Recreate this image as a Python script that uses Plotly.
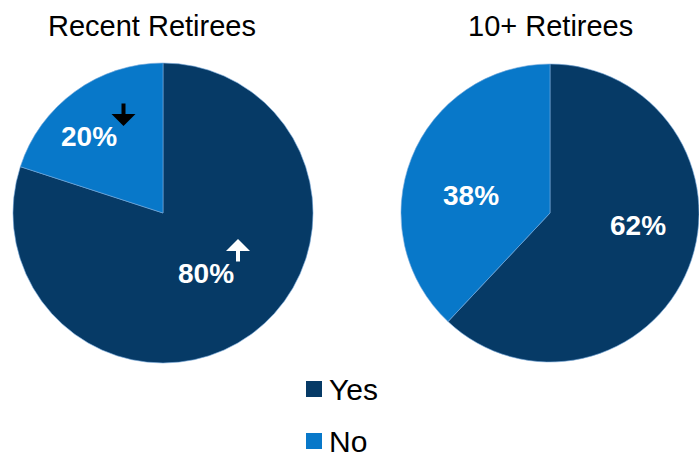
import plotly.graph_objects as go

# Survey answers by retiree group
categories = ["Yes", "No"]
recent_retirees = [80, 20]
ten_plus_retirees = [62, 38]
group_titles = ["Recent Retirees", "10+ Retirees"]

colors = ["#063a66", "#0878c9"]
W, H = 699, 455


def px(x):
    return x / W


def py(y):
    return 1 - y / H


fig = go.Figure()

pie_style = dict(
    labels=categories,
    sort=False,
    direction="clockwise",
    rotation=0,
    textinfo="none",
    hoverinfo="label+percent",
    showlegend=False,
    marker=dict(colors=colors, line=dict(color="rgba(120,170,220,0.6)", width=1)),
)

fig.add_trace(go.Pie(values=recent_retirees, name=group_titles[0],
                     domain=dict(x=[px(13), px(313)], y=[py(363), py(63)]),
                     **pie_style))
fig.add_trace(go.Pie(values=ten_plus_retirees, name=group_titles[1],
                     domain=dict(x=[px(401), 1.0], y=[py(362), py(64)]),
                     **pie_style))

annotations = []
centered = dict(xref="paper", yref="paper", xanchor="center", yanchor="middle", showarrow=False)

# Group titles
for title, cx in zip(group_titles, [152, 550]):
    annotations.append(dict(text=title, x=px(cx), y=py(26),
                            font=dict(size=29, color="#000000"), **centered))

# Percentage labels inside the slices
label_pos = {
    0: [(206, 273), (89, 136)],
    1: [(638, 225), (471, 195)],
}
for g, vals in enumerate([recent_retirees, ten_plus_retirees]):
    for i, v in enumerate(vals):
        x, y = label_pos[g][i]
        annotations.append(dict(text=f"<b>{v}%</b>", x=px(x), y=py(y),
                                font=dict(size=28, color="#ffffff"), **centered))

# Change indicators for recent retirees
arrow_style = dict(xref="paper", yref="paper", text="", showarrow=True, ax=0,
                   arrowhead=1, arrowsize=1.0, arrowwidth=4,
                   standoff=0, startstandoff=0)
annotations.append(dict(x=px(123.5), y=py(126), ay=-24, arrowcolor="#000000", **arrow_style))
annotations.append(dict(x=px(238), y=py(239), ay=24, arrowcolor="#ffffff", **arrow_style))

# Legend drawn as squares with labels
shapes = []
for i, (cat, col) in enumerate(zip(categories, colors)):
    cy = 389 + i * 52
    shapes.append(dict(type="rect", xref="paper", yref="paper",
                       x0=px(306), x1=px(322), y0=py(cy + 8), y1=py(cy - 8),
                       fillcolor=col, line=dict(width=0)))
    annotations.append(dict(text=cat, x=px(328), y=py(cy), xref="paper", yref="paper",
                            xanchor="left", yanchor="middle", showarrow=False,
                            borderpad=0, font=dict(size=30, color="#000000")))

fig.update_layout(
    width=W, height=H,
    margin=dict(l=0, r=0, t=0, b=0),
    paper_bgcolor="#ffffff",
    plot_bgcolor="#ffffff",
    font=dict(family="Liberation Sans, Arial, sans-serif"),
    annotations=annotations,
    shapes=shapes,
)

fig.write_html("out.html")
